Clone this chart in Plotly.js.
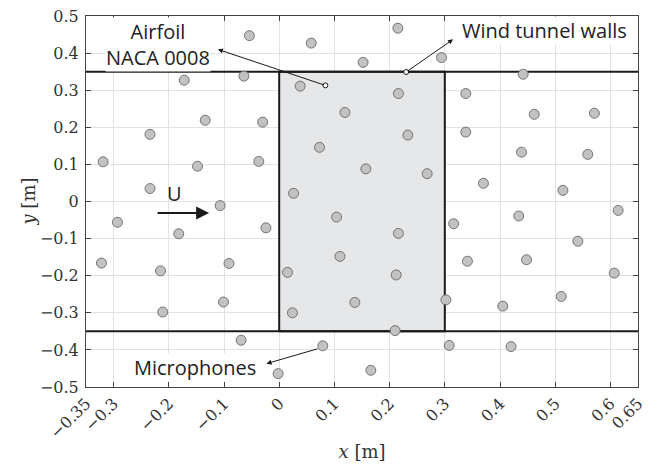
<!DOCTYPE html>
<html>
<head>
<meta charset="utf-8">
<script src="https://cdn.plot.ly/plotly-3.0.1.min.js"></script>
<style>html,body{margin:0;padding:0;background:#fff;}#chart{width:668px;height:476px;}</style>
</head>
<body>
<div id="chart"></div>
<script>
// Microphone positions [m]
var micX = [-0.054,-0.172,-0.064,-0.134,-0.030,-0.234,-0.319,-0.148,-0.037,-0.234,
  -0.107,-0.293,-0.182,-0.024,-0.322,-0.215,-0.091,-0.211,-0.101,-0.069,-0.002,
  0.215,0.058,0.152,0.294,0.038,0.216,0.338,0.119,0.233,0.338,0.073,0.157,0.268,0.026,
  0.104,0.216,0.316,0.110,0.015,0.212,0.341,0.137,0.024,0.302,0.210,0.079,0.308,0.166,
  0.442,0.462,0.571,0.439,0.559,0.370,0.514,
  0.434,0.614,0.541,0.448,0.607,0.405,0.511,0.420];
var micY = [0.447,0.327,0.338,0.219,0.214,0.181,0.107,0.095,0.108,0.035,
  -0.011,-0.056,-0.087,-0.071,-0.166,-0.187,-0.167,-0.298,-0.271,-0.374,-0.464,
  0.467,0.427,0.375,0.388,0.311,0.291,0.291,0.240,0.179,0.187,0.146,0.088,0.075,0.022,
  -0.042,-0.086,-0.060,-0.148,-0.191,-0.198,-0.161,-0.272,-0.300,-0.265,-0.348,-0.389,-0.388,-0.455,
  0.343,0.235,0.238,0.133,0.127,0.049,0.030,
  -0.039,-0.024,-0.107,-0.157,-0.193,-0.282,-0.256,-0.391];

// Airfoil region and wind tunnel walls
var airfoilX = [0, 0.3, 0.3, 0, 0];
var airfoilY = [-0.35, -0.35, 0.35, 0.35, -0.35];
var wallX = [-0.35, 0.65];
var wallTop = [0.35, 0.35];
var wallBottom = [-0.35, -0.35];

// Ticks
var xTickVals = [-0.35,-0.3,-0.2,-0.1,0,0.1,0.2,0.3,0.4,0.5,0.6,0.65];
var xTickText = ['\u22120.35','\u22120.3','\u22120.2','\u22120.1','0','0.1','0.2','0.3','0.4','0.5','0.6','0.65'];
var yTickVals = [-0.5,-0.4,-0.3,-0.2,-0.1,0,0.1,0.2,0.3,0.4,0.5];
var yTickText = ['\u22120.5','\u22120.4','\u22120.3','\u22120.2','\u22120.1','0','0.1','0.2','0.3','0.4','0.5'];

// Annotation anchor points
var airfoilPtr = {x: 0.0836, y: 0.313, hx: -0.111, hy: 0.410};
var wallPtr = {x: 0.230, y: 0.349, hx: 0.315, hy: 0.437};
var micPtr = {x: 0.072, y: -0.396, hx: -0.023, hy: -0.437};
var flowArrow = {x0: -0.223, x1: -0.127, y: -0.031};

var serif = 'DejaVu Serif';
var sans = 'Open Sans';

var traces = [
  {x: airfoilX, y: airfoilY, mode: 'lines', fill: 'toself', fillcolor: '#e6e7e9',
   line: {color: '#1a1a1a', width: 2}, hoverinfo: 'skip', showlegend: false},
  {x: wallX, y: wallTop, mode: 'lines', line: {color: '#1a1a1a', width: 2}, showlegend: false},
  {x: wallX, y: wallBottom, mode: 'lines', line: {color: '#1a1a1a', width: 2}, showlegend: false},
  {x: micX, y: micY, mode: 'markers', showlegend: false,
   marker: {size: 10, color: '#c2c2c2', line: {color: '#5a5a5a', width: 0.8}}},
  {x: [airfoilPtr.x, wallPtr.x], y: [airfoilPtr.y, wallPtr.y], mode: 'markers', showlegend: false,
   marker: {size: 5, color: '#ffffff', line: {color: '#1a1a1a', width: 1}}}
];

function arrow(hx, hy, tx, ty, w, size) {
  return {x: hx, y: hy, ax: tx, ay: ty, xref: 'x', yref: 'y', axref: 'x', ayref: 'y',
    text: '', showarrow: true, arrowhead: 2, arrowsize: size, arrowwidth: w,
    arrowcolor: '#1a1a1a', standoff: 0, startstandoff: 0};
}

var annotations = [
  arrow(airfoilPtr.hx, airfoilPtr.hy, airfoilPtr.x, airfoilPtr.y, 1, 1),
  arrow(wallPtr.hx, wallPtr.hy, wallPtr.x, wallPtr.y, 1, 1),
  arrow(micPtr.hx, micPtr.hy, micPtr.x, micPtr.y, 1, 1),
  arrow(flowArrow.x1, flowArrow.y, flowArrow.x0, flowArrow.y, 2, 1.3),
  {x: -0.219, y: 0.423, xref: 'x', yref: 'y', text: 'Airfoil<br>NACA 0008', showarrow: false,
   font: {family: sans, size: 20, color: '#222'}, bgcolor: '#ffffff', borderpad: 0, align: 'center'},
  {x: 0.4815, y: 0.462, xref: 'x', yref: 'y', text: 'Wind tunnel walls', showarrow: false,
   font: {family: sans, size: 20, color: '#222'}, bgcolor: '#ffffff', borderpad: 0},
  {x: -0.153, y: -0.447, xref: 'x', yref: 'y', text: 'Microphones', showarrow: false,
   font: {family: sans, size: 20, color: '#222'}, bgcolor: '#ffffff', borderpad: 0},
  {x: -0.190, y: 0.022, xref: 'x', yref: 'y', text: 'U', showarrow: false,
   font: {family: sans, size: 20, color: '#222'}},
  // y-axis title placed as in the reference (close to the axis, between tick labels)
  {x: -0.105, y: 0.5, xref: 'paper', yref: 'paper', xanchor: 'center', yanchor: 'middle',
   text: '<i>y</i> [m]', textangle: -90, showarrow: false,
   font: {family: serif, size: 18, color: '#333'}}
];

function axisBase() {
  return {
    showline: true, linecolor: '#444', linewidth: 1, mirror: 'ticks',
    ticks: 'inside', ticklen: 5, tickcolor: '#444', tickwidth: 1,
    showgrid: true, gridcolor: '#e2e2e2', gridwidth: 1, zeroline: false,
    fixedrange: true
  };
}

var xaxis = axisBase();
xaxis.range = [-0.35, 0.65];
xaxis.tickmode = 'array';
xaxis.tickvals = xTickVals;
xaxis.ticktext = xTickText;
xaxis.tickangle = -45;
xaxis.tickfont = {family: serif, size: 16, color: '#333'};
xaxis.title = {text: '<i>x</i> [m]', font: {family: serif, size: 18, color: '#333'}, standoff: 4};

var yaxis = axisBase();
yaxis.range = [-0.5, 0.5];
yaxis.tickmode = 'array';
yaxis.tickvals = yTickVals;
yaxis.ticktext = yTickText;
yaxis.tickfont = {family: serif, size: 16, color: '#333'};
yaxis.ticklabelstandoff = 3;

var layout = {
  width: 668, height: 476,
  margin: {l: 86, r: 30, t: 16, b: 89.3},
  paper_bgcolor: '#ffffff', plot_bgcolor: '#ffffff',
  showlegend: false,
  font: {family: serif, size: 16, color: '#333'},
  xaxis: xaxis,
  yaxis: yaxis,
  annotations: annotations
};

Plotly.newPlot('chart', traces, layout, {displayModeBar: false, staticPlot: true});
</script>
</body>
</html>
